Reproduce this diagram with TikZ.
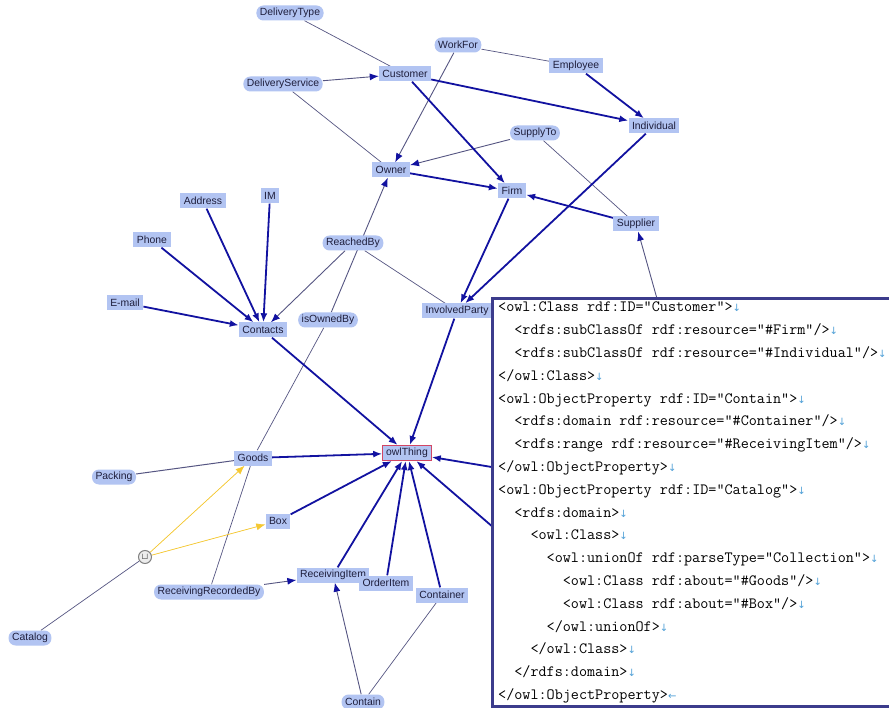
\documentclass[tikz,border=0pt]{standalone}
\usepackage{fontspec}
\usetikzlibrary{arrows.meta,backgrounds}
\newfontfamily\nodefont{Liberation Sans}
\newfontfamily\symfont{DejaVu Sans}
\definecolor{nodeblue}{RGB}{178,196,242}
\definecolor{nodetext}{RGB}{30,30,60}
\definecolor{edgeblue}{RGB}{18,18,160}
\definecolor{lineblue}{RGB}{85,85,130}
\definecolor{unionyellow}{RGB}{245,200,50}
\definecolor{thingred}{RGB}{210,70,100}
\definecolor{boxblue}{RGB}{60,60,140}
\definecolor{markblue}{RGB}{80,160,215}
\newcommand{\lfmark}{{\symfont\fontsize{10}{10}\selectfont\color{markblue}↓}}
\newcommand{\lastmark}{{\symfont\fontsize{10}{10}\selectfont\color{markblue}←}}
\newcommand{\xmlind}[1]{\hspace*{#1\fontcharwd\font`x}}
\begin{document}
\begin{tikzpicture}[
    x=1pt, y=-1pt,
    class/.style={rectangle, fill=nodeblue, text=nodetext, font=\nodefont\fontsize{10.4}{12}\selectfont,
        inner xsep=3.5pt, inner ysep=1.5pt, minimum height=15pt},
    prop/.style={class, rounded corners=7pt},
    thing/.style={class, draw=thingred, line width=1pt},
    unionnode/.style={circle, draw=gray, fill=gray!15, line width=1pt, inner sep=0pt, minimum size=13pt, font=\small},
    isaline/.style={-{Latex[length=9pt,width=7pt]}, line width=1.8pt, draw=edgeblue, fill=edgeblue},
    rangeline/.style={-{Latex[length=9pt,width=7pt,color=edgeblue]}, line width=0.9pt, draw=lineblue},
    domainline/.style={line width=0.7pt, draw=lineblue},
    unionline/.style={-{Latex[length=9pt,width=7pt]}, line width=0.7pt, draw=unionyellow, fill=unionyellow},
    xmlbox/.style={rectangle, draw=boxblue, fill=white, line width=3pt, inner sep=0pt},
    xmltext/.style={font=\ttfamily\fontsize{15.7}{22.8}\selectfont, align=left, inner sep=0pt}
]
    \useasboundingbox (0,0) rectangle (889,708);

    % Classes and properties
    \node[prop] (deliverytype) at (290,13) {DeliveryType};
    \node[prop] (workfor) at (458,45) {WorkFor};
    \node[class] (employee) at (576,66) {Employee};
    \node[class] (customer) at (405,74) {Customer};
    \node[prop] (deliveryservice) at (283,84) {DeliveryService};
    \node[class] (individual) at (654,126) {Individual};
    \node[prop] (supplyto) at (535,133) {SupplyTo};
    \node[class] (owner) at (391,170) {Owner};
    \node[class] (firm) at (512,191) {Firm};
    \node[class] (supplier) at (636,224) {Supplier};
    \node[class] (address) at (203,201) {Address};
    \node[class] (im) at (270,196) {IM};
    \node[class] (phone) at (152,240) {Phone};
    \node[prop] (reachedby) at (353,243) {ReachedBy};
    \node[class] (email) at (125,303) {E-mail};
    \node[class] (contacts) at (263,330) {Contacts};
    \node[prop] (isownedby) at (328,320) {isOwnedBy};
    \node[class] (involvedparty) at (457,311) {InvolvedParty};
    \node[thing] (owlthing) at (407,453) {owlThing};
    \node[class] (goods) at (253,458) {Goods};
    \node[prop] (packing) at (114,477) {Packing};
    \node[class] (box) at (278,521) {Box};
    \node[unionnode] (union) at (145,557) {$\sqcup$};
    \node[class] (receivingitem) at (333,575) {ReceivingItem};
    \node[class] (orderitem) at (386,583) {OrderItem};
    \node[class] (container) at (442,595) {Container};
    \node[prop] (receivingrecordedby) at (209,592) {ReceivingRecordedBy};
    \node[prop] (catalog) at (30,638) {Catalog};
    \node[prop] (contain) at (363,702) {Contain};

    % Ends hidden under the code box
    \coordinate (hidden1) at (540,475);
    \coordinate (hidden2) at (530,559);
    \coordinate (hidden3) at (663,320);

    % Connections
    \begin{scope}[on background layer]
        \fill[white] (0,0) rectangle (889,708);
        \draw[domainline] (deliverytype) -- (customer);
        \draw[rangeline] (deliveryservice) -- (customer);
        \draw[domainline] (deliveryservice) -- (owner);
        \draw[rangeline] (workfor) -- (owner);
        \draw[domainline] (workfor) -- (employee);
        \draw[rangeline] (supplyto) -- (owner);
        \draw[domainline] (supplyto) -- (supplier);
        \draw[rangeline] (isownedby) -- (owner);
        \draw[domainline] (isownedby) -- (goods);
        \draw[rangeline] (reachedby) -- (contacts);
        \draw[domainline] (reachedby) -- (involvedparty);
        \draw[rangeline] (receivingrecordedby) -- (receivingitem);
        \draw[domainline] (receivingrecordedby) -- (goods);
        \draw[rangeline] (contain) -- (receivingitem);
        \draw[domainline] (contain) -- (container);
        \draw[rangeline] (hidden3) -- (supplier);
        \draw[domainline, line width=1pt] (packing) -- (goods);
        \draw[domainline] (catalog) -- (union);
        \draw[unionline] (union) -- (goods);
        \draw[unionline] (union) -- (box);

        \draw[isaline] (customer) -- (firm);
        \draw[isaline] (customer) -- (individual);
        \draw[isaline] (employee) -- (individual);
        \draw[isaline] (owner) -- (firm);
        \draw[isaline] (supplier) -- (firm);
        \draw[isaline] (firm) -- (involvedparty);
        \draw[isaline] (individual) -- (involvedparty);
        \draw[isaline] (phone) -- (contacts);
        \draw[isaline] (address) -- (contacts);
        \draw[isaline] (im) -- (contacts);
        \draw[isaline] (email) -- (contacts);
        \draw[isaline] (involvedparty) -- (owlthing);
        \draw[isaline] (contacts) -- (owlthing);
        \draw[isaline] (goods) -- (owlthing);
        \draw[isaline] (box) -- (owlthing);
        \draw[isaline] (receivingitem) -- (owlthing);
        \draw[isaline] (orderitem) -- (owlthing);
        \draw[isaline] (container) -- (owlthing);
        \draw[isaline] (hidden1) -- (owlthing);
        \draw[isaline] (hidden2) -- (owlthing);
    \end{scope}

    % Code box
    \node[xmlbox, anchor=north west, minimum width=420pt, minimum height=408pt] (xml) at (490.5,297) {};
    \node[xmltext, anchor=north west] (code) at (498,302) {%
        <owl:Class rdf:ID="Customer">\lfmark\\
        \xmlind{2}<rdfs:subClassOf rdf:resource="\#Firm"/>\lfmark\\
        \xmlind{2}<rdfs:subClassOf rdf:resource="\#Individual"/>\lfmark\\
        </owl:Class>\lfmark\\
        <owl:ObjectProperty rdf:ID="Contain">\lfmark\\
        \xmlind{2}<rdfs:domain rdf:resource="\#Container"/>\lfmark\\
        \xmlind{2}<rdfs:range rdf:resource="\#ReceivingItem"/>\lfmark\\
        </owl:ObjectProperty>\lfmark\\
        <owl:ObjectProperty rdf:ID="Catalog">\lfmark\\
        \xmlind{2}<rdfs:domain>\lfmark\\
        \xmlind{4}<owl:Class>\lfmark\\
        \xmlind{6}<owl:unionOf rdf:parseType="Collection">\lfmark\\
        \xmlind{8}<owl:Class rdf:about="\#Goods"/>\lfmark\\
        \xmlind{8}<owl:Class rdf:about="\#Box"/>\lfmark\\
        \xmlind{6}</owl:unionOf>\lfmark\\
        \xmlind{4}</owl:Class>\lfmark\\
        \xmlind{2}</rdfs:domain>\lfmark\\
        </owl:ObjectProperty>\lastmark};
\end{tikzpicture}
\end{document}
